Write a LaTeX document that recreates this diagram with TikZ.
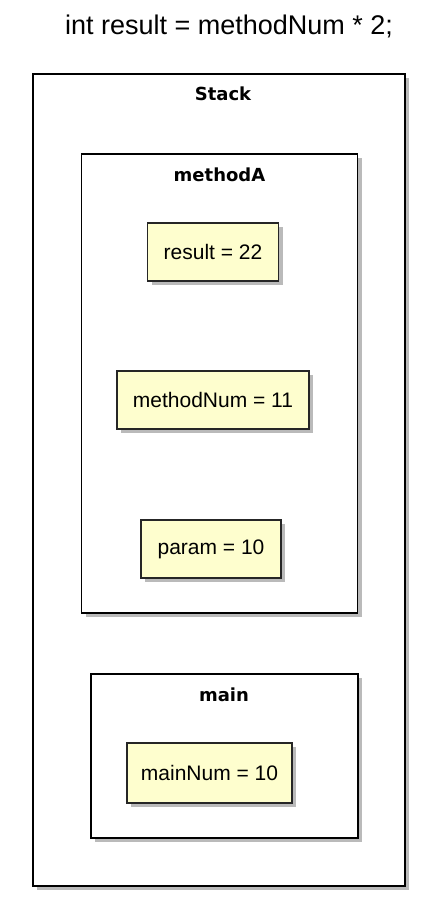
\documentclass[tikz,border=0pt]{standalone}
\usepackage{fontspec}
\setmainfont{Liberation Sans}
\newfontfamily\dvsans{DejaVu Sans}
\usetikzlibrary{shadows}
\definecolor{notefill}{HTML}{FEFECE}
\tikzset{
  frame/.style={draw=black, line width=1.6pt, fill=white, inner sep=0pt,
    drop shadow={shadow xshift=4pt, shadow yshift=-4pt, fill=black!45, opacity=0.6}},
  valbox/.style={draw=black!85, line width=1.6pt, fill=notefill, inner sep=0pt,
    font=\fontsize{21}{23}\selectfont,
    drop shadow={shadow xshift=4pt, shadow yshift=-4pt, fill=black!45, opacity=0.6}},
  framelabel/.style={font=\dvsans\bfseries\fontsize{18}{20}\selectfont, inner sep=0pt},
  titlelabel/.style={font=\fontsize{27}{30}\selectfont, inner sep=0pt}
}
\begin{document}
\begin{tikzpicture}[x=1pt, y=-1pt]
\useasboundingbox (0,0) rectangle (420,901);
\node[titlelabel] (title) at (229,26) {int result = methodNum * 2;};
% outer stack frame
\node[frame, minimum width=372pt, minimum height=812pt] (stack) at (219,480) {};
\node[framelabel] (stacklbl) at (223,94) {Stack};
% methodA frame
\node[frame, minimum width=276pt, minimum height=459pt] (methodA) at (219.5,383.5) {};
\node[framelabel] (methodAlbl) at (219.5,175) {methodA};
\node[valbox, minimum width=131pt, minimum height=58pt] (result) at (213,252) {result = 22};
\node[valbox, minimum width=192pt, minimum height=58pt] (methodNum) at (213,400) {methodNum = 11};
\node[valbox, minimum width=140pt, minimum height=58pt] (param) at (211,549) {param = 10};
% main frame
\node[frame, minimum width=267pt, minimum height=164pt] (main) at (224.5,756) {};
\node[framelabel] (mainlbl) at (224,695) {main};
\node[valbox, minimum width=165pt, minimum height=60pt] (mainNum) at (209.5,773) {mainNum = 10};
\end{tikzpicture}
\end{document}
